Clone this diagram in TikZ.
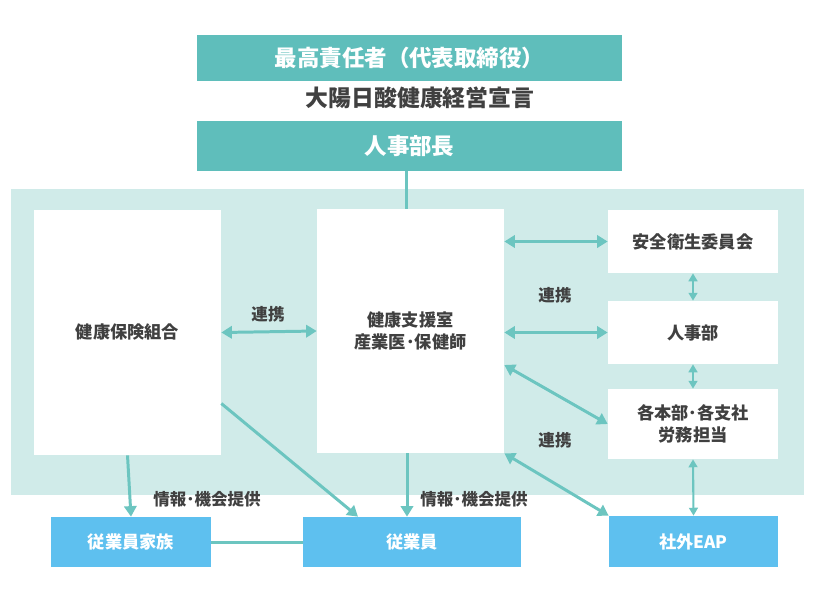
\documentclass[tikz,border=0pt]{standalone}
\usepackage{fontspec}
\setmainfont{Noto Sans CJK JP}
\usetikzlibrary{arrows.meta}

\definecolor{teal1}{HTML}{5FBEBB}
\definecolor{linkc}{HTML}{6CC5C0}
\definecolor{zone}{HTML}{D0EBE9}
\definecolor{sky}{HTML}{5EC0EF}
\definecolor{ink}{HTML}{404040}

\tikzset{
  headbox/.style={rectangle, fill=teal1, text=white, inner sep=0pt,
    font=\fontsize{12.8}{15}\selectfont\bfseries},
  unitbox/.style={rectangle, fill=white, text=ink, inner sep=0pt, align=center,
    font=\fontsize{9.8}{12.5}\selectfont\bfseries},
  staffbox/.style={rectangle, fill=sky, text=white, inner sep=0pt,
    font=\fontsize{9.8}{12}\selectfont\bfseries},
  tag/.style={text=ink, inner sep=0pt, font=\fontsize{9.4}{11}\selectfont\bfseries},
  link/.style={draw=linkc, line width=1.7pt, {Triangle[width=7pt,length=6pt]}-{Triangle[width=7pt,length=6pt]}},
  feed/.style={draw=linkc, line width=1.7pt, -{Triangle[width=7pt,length=6pt]}},
  minilink/.style={draw=linkc, line width=1.2pt, {Triangle[width=5pt,length=4.5pt]}-{Triangle[width=5pt,length=4.5pt]}}
}

\begin{document}
\begin{tikzpicture}[x=0.02cm, y=-0.02cm]
  \useasboundingbox (0,0) rectangle (817,595);

  % Top management
  \node[headbox, minimum width=8.5cm, minimum height=0.92cm] (ceo) at (409.5,58)
    {最高責任者（代表取締役）};
  \node[text=ink, font=\fontsize{13}{15}\selectfont\bfseries] (decl) at (420,98)
    {大陽日酸健康経営宣言};
  \node[headbox, minimum width=8.5cm, minimum height=1cm] (hrhead) at (409.5,146)
    {人事部長};

  % Shaded zone
  \fill[zone] (11,189) rectangle (804,495);

  % Units inside the zone
  \node[unitbox, minimum width=3.74cm, minimum height=4.9cm] (kenpo) at (127.5,332.5)
    {健康保険組合};
  \node[unitbox, minimum width=3.74cm, minimum height=4.88cm] (shien) at (410.5,331)
    {健康支援室\\産業医･保健師};
  \node[unitbox, minimum width=3.4cm, minimum height=1.26cm] (anei) at (693,241.5)
    {安全衛生委員会};
  \node[unitbox, minimum width=3.4cm, minimum height=1.26cm] (jinji) at (693,332.5)
    {人事部};
  \node[unitbox, minimum width=3.4cm, minimum height=1.4cm] (kaku) at (693,424)
    {各本部･各支社\\労務担当};

  % Bottom row
  \node[staffbox, minimum width=3.2cm, minimum height=1cm] (kazoku) at (131,542)
    {従業員家族};
  \node[staffbox, minimum width=4.36cm, minimum height=1cm] (jugyo) at (412,542)
    {従業員};
  \node[staffbox, minimum width=3.38cm, minimum height=1.02cm] (eap) at (693.5,541.5)
    {社外EAP};

  % Connectors
  \draw[draw=linkc, line width=1.7pt] ([xshift=-0.06cm]hrhead.south) -- ([xshift=-0.06cm]hrhead.south |- shien.north);
  \draw[link] (kenpo.east) -- (shien.west);
  \draw[link] (shien.east |- anei.west) -- (anei.west);
  \draw[link] (shien.east |- jinji.west) -- (jinji.west);
  \draw[link] ([yshift=-0.68cm]shien.east) -- (kaku.west);
  \draw[link] (shien.south east) -- (eap.north west);
  \draw[minilink] (anei.south) -- (jinji.north);
  \draw[minilink] (jinji.south) -- (kaku.north);
  \draw[minilink] (kaku.south) -- (eap.north);
  \draw[feed] (kenpo.south) -- (kazoku.north);
  \draw[feed] ([yshift=-1.42cm]kenpo.east) -- ([xshift=-1.08cm]jugyo.north);
  \draw[feed] ([xshift=-0.07cm]shien.south) -- ([xshift=-0.07cm]shien.south |- jugyo.north);
  \draw[draw=linkc, line width=1.7pt] (kazoku.east) -- (jugyo.west);

  % Labels
  \node[tag] (tagA) at (268,314) {連携};
  \node[tag] (tagB) at (555,295) {連携};
  \node[tag] (tagC) at (555,440) {連携};
  \node[tag] (infoA) at (207,499) {情報･機会提供};
  \node[tag] (infoB) at (474,499) {情報･機会提供};

\end{tikzpicture}
\end{document}
